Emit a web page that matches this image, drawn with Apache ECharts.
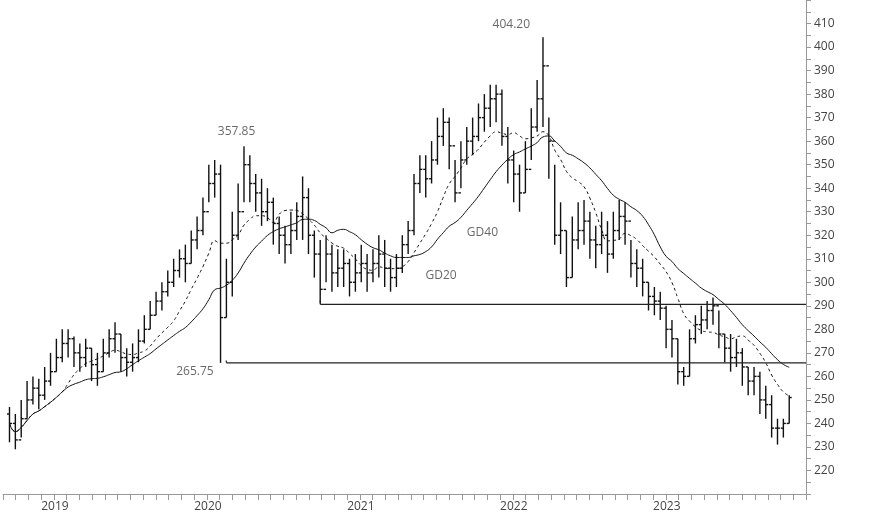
<!DOCTYPE html>
<html><head><meta charset="utf-8">
<script src="https://cdn.jsdelivr.net/npm/echarts@6/dist/echarts.min.js"></script>
<style>html,body{margin:0;padding:0;background:#fff}#c{width:874px;height:515px}</style>
</head><body><div id="c"></div>
<script>
// Biweekly bars
const startYear = 2018.7924, stepYear = 14/365.25;
const closes = [240,233,242,250,255,252,258,262,268,274,276,270,268,272,265,262,270,276,278,268,266,268,275,280,286,292,296,300,305,310,308,318,322,330,342,346,285,300,320,330,350,342,338,330,334,325,320,316,322,328,336,320,312,297,312,304,306,308,300,304,308,304,308,312,306,302,306,316,322,342,348,344,352,362,368,358,338,352,360,362,370,374,378,380,362,352,346,338,348,366,378,392,360,320,322,302,318,322,326,318,316,320,312,322,328,326,308,306,300,294,292,289,280,276,262,260,276,282,284,288,290,278,272,268,270,264,258,260,250,248,238,238,240,251];
const highs = [247,244,250,258,260,259,264,270,276,280,280,277,274,276,272,270,276,280,283,278,272,274,280,286,292,296,300,305,310,314,316,322,328,336,350,352,350,310,330,342,357.85,354,346,344,340,336,328,324,330,334,345,340,322,318,320,316,314,314,310,312,316,312,314,320,318,310,312,320,326,346,354,354,360,370,374,370,352,360,366,370,376,380,384,384,382,366,356,350,360,374,386,404.2,370,350,334,322,328,334,335,330,324,330,326,330,335,334,318,314,310,300,298,296,290,284,276,264,280,286,290,292,293.5,288,278,278,276,272,264,264,262,256,252,242,242,252];
const lows = [232,229,234,242,248,246,250,256,262,266,268,264,262,264,258,256,262,268,270,262,260,262,266,274,280,286,288,294,298,302,300,308,314,320,334,336,265.75,285,294,318,334,334,330,324,326,316,312,308,312,318,318,312,302,291,300,296,298,298,294,296,300,296,300,302,298,296,298,304,312,320,338,336,342,350,358,348,334,340,350,354,360,364,366,368,358,342,334,330,338,352,364,366,344,316,312,298,302,314,316,310,306,312,304,310,318,316,302,298,294,288,286,284,272,268,256.5,256,260,274,278,280,282,272,266,262,264,256,252,252,244,242,234,231,234,240];
const annotations = [
  {name:'357.85', x:2020.29, y:357.85, pos:'top', off:[-2,-4]},
  {name:'404.20', x:2022.165, y:404.2, pos:'top', off:[-14,-2]},
  {name:'265.75', x:2020.07, y:265.75, pos:'bottom', off:[-10,-2]},
  {name:'GD40', x:2021.75, y:321, pos:'right', off:[0,0]},
  {name:'GD20', x:2021.48, y:303, pos:'right', off:[0,0]}
];
const levels = [{from:2020.21, y:265.75},{from:2020.825, y:290.6}];

const dates = closes.map((_, i) => startYear + i*stepYear);
const opens = closes.map((c, i) => i === 0 ? c + 4 : closes[i-1]);
const ohlc = dates.map((d, i) => [d, opens[i], closes[i], lows[i], highs[i]]);
function ma(n){ return closes.map((_, i) => { const s = Math.max(0, i-n+1); let t=0; for(let k=s;k<=i;k++) t+=closes[k]; return [dates[i], +(t/(i-s+1)).toFixed(2)]; }); }

const chart = echarts.init(document.getElementById('c'));
const txt = '#444';
chart.setOption({
  animation:false,
  grid:{left:-4,right:68,top:0,bottom:21},
  xAxis:{type:'value',min:2018.75,max:2024,interval:1/12,
    axisLine:{lineStyle:{color:'#999'}},
    axisTick:{show:true,length:6,inside:false,lineStyle:{color:'#999'}},
    splitLine:{show:false},
    axisLabel:{color:txt,fontFamily:'Open Sans',fontSize:12,align:'left',margin:7,
      formatter:v=>(v<2023.5&&Math.abs(v-Math.round(v))<1e-6)?String(Math.round(v)):''}},
  yAxis:{type:'value',position:'right',min:210,max:420,interval:10,
    axisLine:{show:true,lineStyle:{color:'#999'}},
    axisTick:{show:true,length:5,lineStyle:{color:'#999'}},
    minorTick:{show:true,splitNumber:2,length:5,lineStyle:{color:'#999'}},
    splitLine:{show:false},
    axisLabel:{color:txt,fontFamily:'Open Sans',fontSize:12,margin:8,
      formatter:v=>(v<=210||v>=420)?'':String(v)}},
  series:[
    {type:'custom',data:ohlc,encode:{x:0,y:[1,2,3,4]},
     renderItem:function(params,api){
       const x=api.value(0);
       const po=api.coord([x,api.value(1)]), pc=api.coord([x,api.value(2)]);
       const pl=api.coord([x,api.value(3)]), ph=api.coord([x,api.value(4)]);
       const st={stroke:'#111',lineWidth:1.4};
       return {type:'group',children:[
         {type:'line',shape:{x1:pl[0],y1:pl[1],x2:ph[0],y2:ph[1]},style:st},
         {type:'line',shape:{x1:po[0]-2.5,y1:po[1],x2:po[0],y2:po[1]},style:st},
         {type:'line',shape:{x1:pc[0],y1:pc[1],x2:pc[0]+2.5,y2:pc[1]},style:st}]};
     }},
    {type:'line',data:ma(10),showSymbol:false,smooth:true,lineStyle:{color:'#111',width:1,type:[3,3]}},
    {type:'line',data:ma(20),showSymbol:false,smooth:true,lineStyle:{color:'#111',width:1}},
    ...levels.map(l=>({type:'line',data:[[l.from,l.y],[2024,l.y]],showSymbol:false,lineStyle:{color:'#222',width:1.2}})),
    ...levels.map(l=>({type:'line',data:[[l.from,l.y],[l.from,l.y+ (l.y>280?2:1)]],showSymbol:false,lineStyle:{color:'#222',width:1.2}})),
    {type:'scatter',symbolSize:0,data:annotations.map(a=>({value:[a.x,a.y],label:{show:true,position:a.pos,offset:a.off,formatter:a.name,color:txt,fontFamily:'Open Sans',fontSize:12}}))}
  ]
});
</script></body></html>
